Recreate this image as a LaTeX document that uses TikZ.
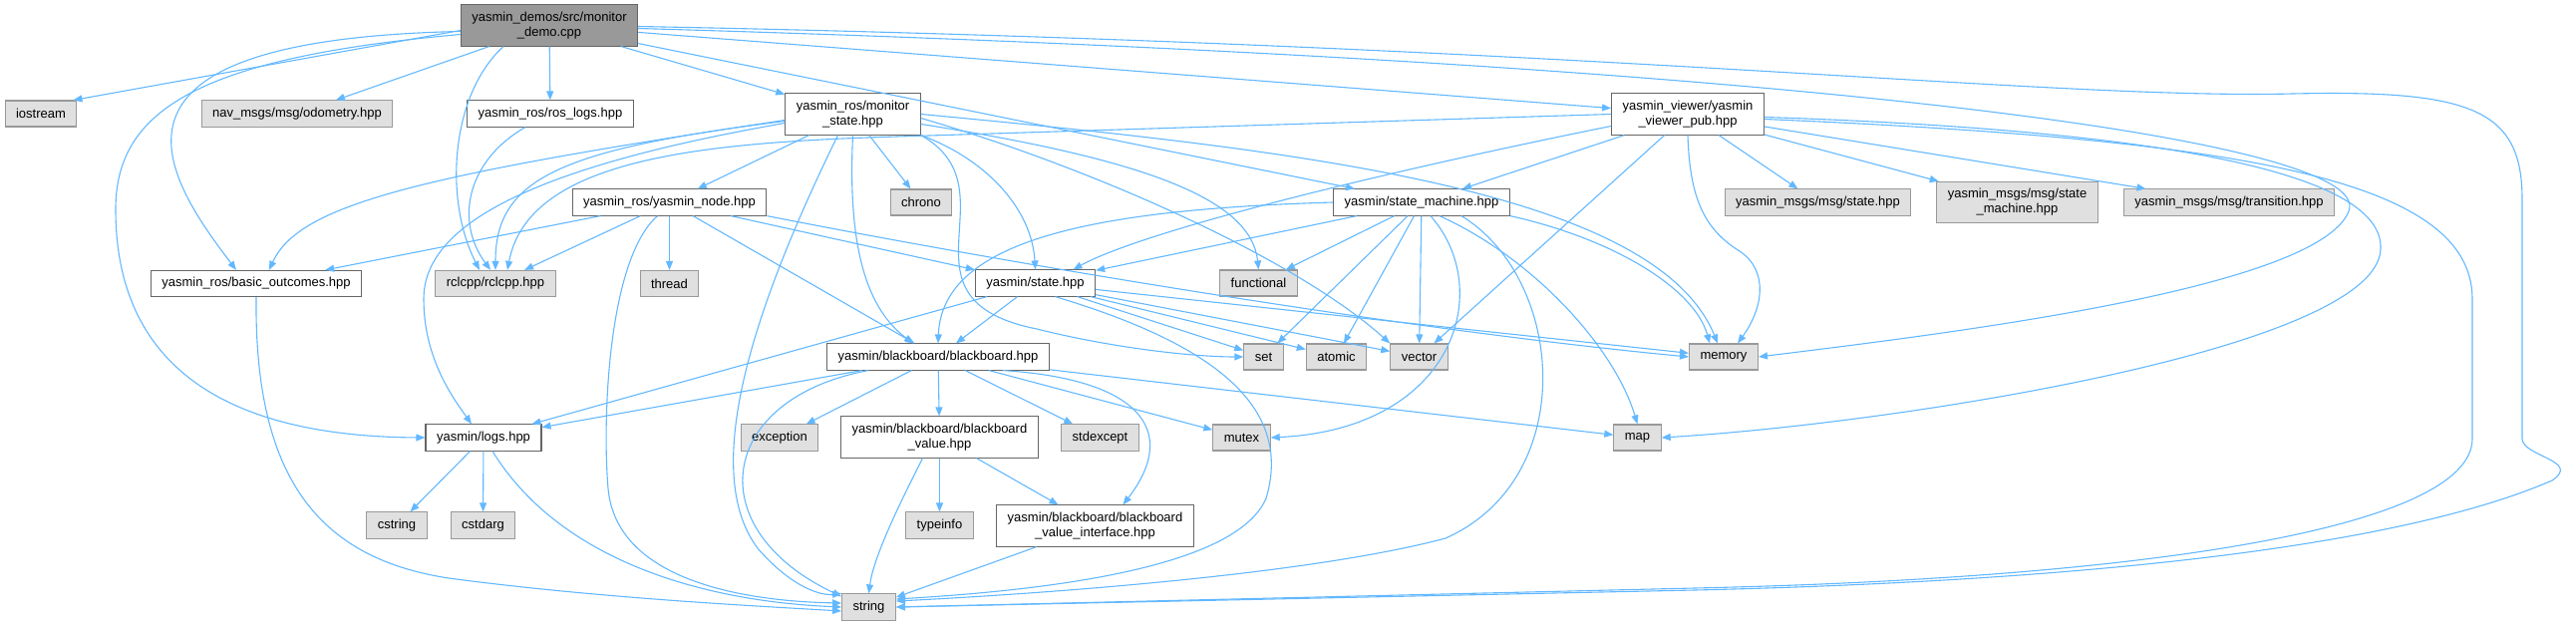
\documentclass[tikz,border=0pt]{standalone}
\usepackage{fontspec}
\setmainfont{Liberation Sans}
\usepackage{tikz}
\usetikzlibrary{arrows.meta}

\definecolor{edgeblue}{HTML}{63B8FF}
\definecolor{boxgray}{HTML}{E0E0E0}
\definecolor{rootgray}{HTML}{999999}
\definecolor{darkframe}{HTML}{666666}
\definecolor{lightframe}{HTML}{999999}

\begin{document}
\begin{tikzpicture}[
  x=1pt, y=-1pt,
  hdr/.style={rectangle, draw=darkframe, line width=1.1pt, fill=white,
              align=center, inner xsep=11pt, inner ysep=7pt,
              minimum height=26pt, font=\fontsize{13}{15}\selectfont},
  sysinc/.style={hdr, draw=lightframe, fill=boxgray},
  srcfile/.style={hdr, fill=rootgray},
  dep/.style={-{Triangle[length=9pt, width=7pt]}, draw=edgeblue, line width=1.1pt},
]
  \useasboundingbox (0,0) rectangle (2584,627);

  % Source file
  \node[srcfile] (demo) at (551,25.5) {yasmin\_demos/src/monitor\\\_demo.cpp};

  % First level
  \node[sysinc] (iostream) at (41,114) {iostream};
  \node[sysinc] (odom) at (298,114) {nav\_msgs/msg/odometry.hpp};
  \node[hdr] (roslogs) at (552,114) {yasmin\_ros/ros\_logs.hpp};
  \node[hdr] (monstate) at (855.5,114.5) {yasmin\_ros/monitor\\\_state.hpp};
  \node[hdr] (viewer) at (1693,114.5) {yasmin\_viewer/yasmin\\\_viewer\_pub.hpp};

  % Second level
  \node[hdr] (ynode) at (671.5,203) {yasmin\_ros/yasmin\_node.hpp};
  \node[sysinc] (chrono) at (924,203) {chrono};
  \node[hdr] (smach) at (1426,203) {yasmin/state\_machine.hpp};
  \node[sysinc] (msgstate) at (1823.5,203) {yasmin\_msgs/msg/state.hpp};
  \node[sysinc] (msgsm) at (2023.5,203) {yasmin\_msgs/msg/state\\\_machine.hpp};
  \node[sysinc] (msgtrans) at (2236,203) {yasmin\_msgs/msg/transition.hpp};

  % Third level
  \node[hdr] (outcomes) at (257,284.5) {yasmin\_ros/basic\_outcomes.hpp};
  \node[sysinc] (rclcpp) at (497,284.5) {rclcpp/rclcpp.hpp};
  \node[sysinc] (thread) at (671.5,284.5) {thread};
  \node[hdr] (state) at (1038.5,284) {yasmin/state.hpp};
  \node[sysinc] (functional) at (1262.5,284) {functional};

  % Blackboard level
  \node[hdr] (bboard) at (941,358) {yasmin/blackboard/blackboard.hpp};
  \node[sysinc] (set) at (1267.5,358) {set};
  \node[sysinc] (atomic) at (1340.5,358) {atomic};
  \node[sysinc] (vector) at (1423.5,358) {vector};
  \node[sysinc] (memory) at (1729,358) {memory};

  % Logs level
  \node[hdr] (logs) at (485,439) {yasmin/logs.hpp};
  \node[sysinc] (exception) at (782,439) {exception};
  \node[hdr] (bbvalue) at (942.5,438.5) {yasmin/blackboard/blackboard\\\_value.hpp};
  \node[sysinc] (stdexcept) at (1103.5,439) {stdexcept};
  \node[sysinc] (mutex) at (1245.5,439) {mutex};
  \node[sysinc] (map) at (1642.5,439) {map};

  % Bottom levels
  \node[sysinc] (cstring) at (398,527) {cstring};
  \node[sysinc] (cstdarg) at (484.5,527) {cstdarg};
  \node[sysinc] (typeinfo) at (942.5,527) {typeinfo};
  \node[hdr] (bbiface) at (1098.5,527.5) {yasmin/blackboard/blackboard\\\_value\_interface.hpp};
  \node[sysinc] (string) at (871.5,609) {string};

  % Connections from the source file
  \draw[dep] ([yshift=-5pt]demo.west) -- ([xshift=-4pt]iostream.north east);
  \draw[dep] (demo) -- (odom);
  \draw[dep] (demo) -- (roslogs);
  \draw[dep] (demo) -- (monstate);
  \draw[dep] (demo) -- (viewer);
  \draw[dep] (demo) -- (smach);
  \draw[dep] ([xshift=-46pt]demo.south) .. controls (452,95) and (445,200) .. ([xshift=-16pt]rclcpp.north);
  \draw[dep] ([yshift=-6pt]demo.west) .. controls (80,40) and (160,170) .. ([xshift=-20pt]outcomes.north);
  \draw[dep] ([yshift=-9pt]demo.west) .. controls (200,58) and (116,110) .. (116,210)
             .. controls (116,390) and (260,438) .. (logs.west);
  \draw[dep] ([yshift=-3pt]demo.east) .. controls (1800,62) and (2385,140) .. (2356,212)
             .. controls (2325,290) and (1950,335) .. (memory.east);
  \draw[dep] ([yshift=-1pt]demo.east) .. controls (1600,45) and (2050,100) .. (2300,94)
             .. controls (2480,90) and (2530,110) .. (2530,200) -- (2530,440)
             .. controls (2530,458) and (2590,462) .. (2560,482)
             .. controls (2380,560) and (2000,585) .. (1700,592) -- (string.east);

  % ros_logs
  \draw[dep] ([xshift=-25pt]roslogs.south) .. controls (470,160) and (455,220) .. ([xshift=-5pt]rclcpp.north);

  % monitor_state
  \draw[dep] ([yshift=-6pt]monstate.west) .. controls (420,176) and (300,205) .. ([xshift=13pt]outcomes.north);
  \draw[dep] ([yshift=-7pt]monstate.west) .. controls (560,150) and (497,180) .. (rclcpp.north);
  \draw[dep] ([yshift=-9pt]monstate.west) .. controls (520,170) and (425,230) .. (425,300)
             .. controls (425,360) and (455,400) .. ([xshift=-12pt]logs.north);
  \draw[dep] (monstate) -- (ynode);
  \draw[dep] (monstate) -- (chrono);
  \draw[dep] (monstate.south east) .. controls (990,160) and (1035,210) .. (state.north);
  \draw[dep] ([yshift=-10pt]monstate.east) .. controls (1150,160) and (1255,200) .. (functional.north);
  \draw[dep] (monstate.south) .. controls (850,250) and (870,310) .. ([xshift=-25pt]bboard.north);
  \draw[dep] (monstate.south east) .. controls (1020,190) and (890,300) .. (1040,330)
             .. controls (1120,350) and (1200,358) .. (set.west);
  \draw[dep] ([yshift=-4pt]monstate.east) .. controls (1100,170) and (1300,260) .. (vector.north west);
  \draw[dep] (monstate.east) .. controls (1300,150) and (1660,190) .. ([xshift=-6pt]memory.north);
  \draw[dep] ([xshift=-15pt]monstate.south) .. controls (760,300) and (700,470) .. (760,550)
             .. controls (790,585) and (820,598) .. (string.north west);

  % yasmin_node
  \draw[dep] (ynode) -- (outcomes);
  \draw[dep] (ynode) -- (rclcpp);
  \draw[dep] (ynode) -- (thread);
  \draw[dep] (ynode) -- (bboard);
  \draw[dep] (ynode) -- (state);
  \draw[dep] (ynode.south east) .. controls (1000,262) and (1400,330) .. (memory.west);
  \draw[dep] ([xshift=-12pt]ynode.south) .. controls (610,260) and (604,420) .. (610,490)
             .. controls (618,580) and (740,603) .. ([yshift=4pt]string.west);

  % state_machine
  \draw[dep] (smach.west) .. controls (1100,210) and (945,240) .. (bboard.north);
  \draw[dep] (smach) -- (state);
  \draw[dep] (smach) -- (functional);
  \draw[dep] (smach) -- (set);
  \draw[dep] (smach) -- (atomic);
  \draw[dep] (smach) -- (vector);
  \draw[dep] ([xshift=9pt]smach.south) .. controls (1500,290) and (1460,430) .. (mutex.east);
  \draw[dep] ([xshift=18pt]smach.south) .. controls (1540,260) and (1620,350) .. (map.north);
  \draw[dep] ([xshift=40pt]smach.south) .. controls (1570,280) and (1585,480) .. (1450,540)
             .. controls (1300,580) and (1000,598) .. ([yshift=6pt]string.east);
  \draw[dep] (smach.south east) .. controls (1620,240) and (1700,290) .. ([xshift=-14pt]memory.north);

  % state
  \draw[dep] (state) -- (bboard);
  \draw[dep] (state) -- (logs);
  \draw[dep] (state) -- (set);
  \draw[dep] (state) -- (atomic);
  \draw[dep] (state) -- (vector);
  \draw[dep] (state) -- (memory);
  \draw[dep] ([xshift=20pt]state.south) .. controls (1200,340) and (1300,400) .. (1270,500)
             .. controls (1240,570) and (1050,592) .. ([yshift=8pt]string.east);

  % blackboard
  \draw[dep] (bboard) -- (logs);
  \draw[dep] (bboard) -- (exception);
  \draw[dep] (bboard) -- (bbvalue);
  \draw[dep] (bboard) -- (stdexcept);
  \draw[dep] (bboard) -- (mutex);
  \draw[dep] (bboard) -- (map);
  \draw[dep] ([xshift=65pt]bboard.south) .. controls (1140,380) and (1185,430) .. ([xshift=28pt]bbiface.north);
  \draw[dep] ([xshift=-70pt]bboard.south) .. controls (720,400) and (700,530) .. ([yshift=-3pt]string.north west);

  % blackboard value
  \draw[dep] (bbvalue) -- (typeinfo);
  \draw[dep] (bbvalue) -- (bbiface);
  \draw[dep] ([xshift=-17pt]bbvalue.south) .. controls (900,510) and (876,560) .. (string.north);
  \draw[dep] (bbiface) -- (string);

  % logs
  \draw[dep] (logs) -- (cstring);
  \draw[dep] (logs) -- (cstdarg);
  \draw[dep] ([xshift=9pt]logs.south) .. controls (560,560) and (700,603) .. (string.west);

  % basic_outcomes
  \draw[dep] (outcomes.south) .. controls (255,480) and (320,560) .. (450,580)
             .. controls (600,600) and (760,608) .. ([yshift=-4pt]string.west);

  % viewer
  \draw[dep] (viewer) -- (msgstate);
  \draw[dep] (viewer) -- (msgsm);
  \draw[dep] (viewer) -- (msgtrans);
  \draw[dep] (viewer) -- (smach);
  \draw[dep] ([yshift=-12pt]viewer.west) .. controls (1400,170) and (1150,230) .. ([xshift=38pt]state.north);
  \draw[dep] (viewer.west) -- (900,137) .. controls (700,143) and (530,160) .. ([xshift=12pt]rclcpp.north);
  \draw[dep] (viewer) -- (vector);
  \draw[dep] (viewer.south) .. controls (1695,200) and (1710,230) .. (1745,252)
             .. controls (1775,272) and (1768,310) .. ([xshift=14pt]memory.north);
  \draw[dep] ([yshift=-3pt]viewer.east) .. controls (2150,130) and (2392,170) .. (2388,250)
             .. controls (2384,350) and (1900,425) .. (map.east);
  \draw[dep] ([yshift=-5pt]viewer.east) .. controls (2250,140) and (2480,180) .. (2480,300) -- (2480,440)
             .. controls (2480,530) and (2150,580) .. (1700,590) -- (string.east);
\end{tikzpicture}
\end{document}
